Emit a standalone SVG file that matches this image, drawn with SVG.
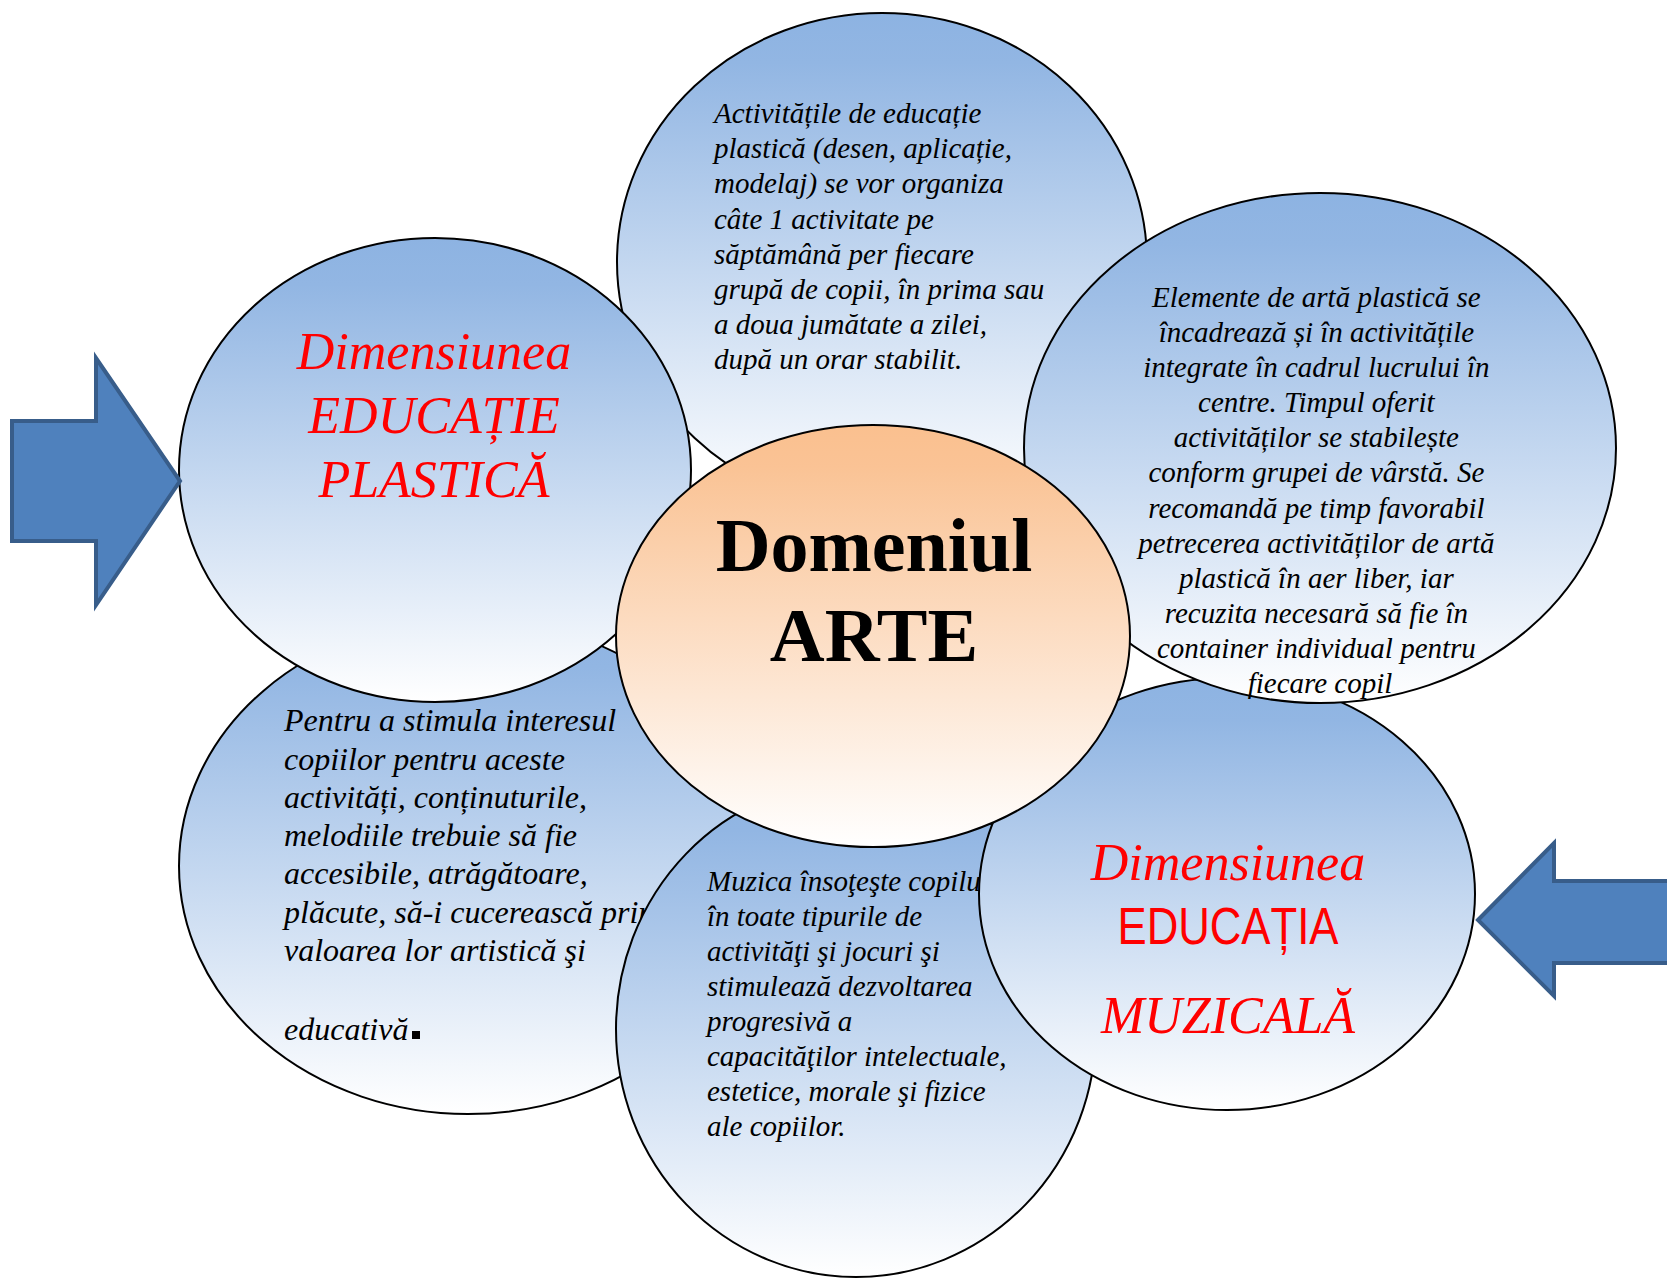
<svg xmlns="http://www.w3.org/2000/svg" width="1667" height="1278" viewBox="0 0 1667 1278">
<defs>
<linearGradient id="gBlue" x1="0" y1="0" x2="0" y2="1">
<stop offset="0" stop-color="#8DB3E2"/>
<stop offset="0.1" stop-color="#92B6E3"/>
<stop offset="1" stop-color="#FFFFFF"/>
</linearGradient>
<linearGradient id="gOrange" x1="0" y1="0" x2="0" y2="1">
<stop offset="0" stop-color="#FAC08F"/>
<stop offset="0.1" stop-color="#FAC395"/>
<stop offset="1" stop-color="#FFFFFF"/>
</linearGradient>
</defs>
<style>
.bub{fill:url(#gBlue);stroke:#000;stroke-width:2}
.ctr{fill:url(#gOrange);stroke:#000;stroke-width:2}
.body{font-family:"Liberation Serif","Times New Roman",serif;font-style:italic;font-size:29px;fill:#000}
.body32{font-family:"Liberation Serif","Times New Roman",serif;font-style:italic;font-size:32px;fill:#000}
.title{font-family:"Liberation Serif","Times New Roman",serif;font-style:italic;font-size:52px;fill:#FF0000;text-anchor:middle}
.sans{font-family:"Liberation Sans",Arial,sans-serif;font-size:52px;fill:#FF0000;text-anchor:middle}
.big{font-family:"Liberation Serif","Times New Roman",serif;font-weight:bold;font-size:76px;fill:#000;text-anchor:middle}
.arrow{fill:#4F81BD;stroke:#385D8A;stroke-width:4;stroke-linejoin:miter}
</style>
<rect width="1667" height="1278" fill="#FFFFFF"/>

<g id="node-top">
<ellipse class="bub" cx="882" cy="262" rx="265" ry="249"/>
<text class="body" x="714">
<tspan x="714" y="123">Activitățile de educație</tspan>
<tspan x="714" y="158">plastică (desen, aplicație,</tspan>
<tspan x="714" y="193">modelaj) se vor organiza</tspan>
<tspan x="714" y="229">câte 1 activitate pe</tspan>
<tspan x="714" y="264">săptămână per fiecare</tspan>
<tspan x="714" y="299">grupă de copii, în prima sau</tspan>
<tspan x="714" y="334">a doua jumătate a zilei,</tspan>
<tspan x="714" y="369">după un orar stabilit.</tspan>
</text>
</g>

<g id="node-bottom-left">
<ellipse class="bub" cx="468" cy="866" rx="289" ry="248"/>
<text class="body32">
<tspan x="284" y="731">Pentru a stimula interesul</tspan>
<tspan x="284" y="770">copiilor pentru aceste</tspan>
<tspan x="284" y="808">activități, conținuturile,</tspan>
<tspan x="284" y="846">melodiile trebuie să fie</tspan>
<tspan x="284" y="884">accesibile, atrăgătoare,</tspan>
<tspan x="284" y="923">plăcute, să-i cucerească prin</tspan>
<tspan x="284" y="961">valoarea lor artistică şi</tspan>
<tspan x="284" y="1040">educativă</tspan>
</text>
<rect x="412" y="1031" width="8" height="8" fill="#000"/>
</g>

<g id="node-bottom">
<ellipse class="bub" cx="856" cy="1029" rx="240" ry="248"/>
<text class="body">
<tspan x="707" y="891">Muzica însoţeşte copilul</tspan>
<tspan x="707" y="926">în toate tipurile de</tspan>
<tspan x="707" y="961">activităţi şi jocuri şi</tspan>
<tspan x="707" y="996">stimulează dezvoltarea</tspan>
<tspan x="707" y="1031">progresivă a</tspan>
<tspan x="707" y="1066">capacităţilor intelectuale,</tspan>
<tspan x="707" y="1101">estetice, morale şi fizice</tspan>
<tspan x="707" y="1136">ale copiilor.</tspan>
</text>
</g>

<g id="node-bottom-right">
<ellipse class="bub" cx="1227" cy="894" rx="248" ry="216"/>
<text class="title" x="1228" y="880">Dimensiunea</text>
<text class="sans" x="1228" y="944" textLength="221" lengthAdjust="spacingAndGlyphs">EDUCAȚIA</text>
<text class="title" x="1228" y="1033">MUZICALĂ</text>
</g>

<g id="node-right">
<ellipse class="bub" cx="1320" cy="448" rx="296" ry="255"/>
<text class="body" text-anchor="middle">
<tspan x="1320" y="307">Elemente de artă plastică se</tspan>
<tspan x="1320" y="342">încadrează și în activitățile</tspan>
<tspan x="1320" y="377">integrate în cadrul lucrului în</tspan>
<tspan x="1320" y="412">centre. Timpul oferit</tspan>
<tspan x="1320" y="447">activităților se stabilește</tspan>
<tspan x="1320" y="482">conform grupei de vârstă. Se</tspan>
<tspan x="1320" y="518">recomandă pe timp favorabil</tspan>
<tspan x="1320" y="553">petrecerea activităților de artă</tspan>
<tspan x="1320" y="588">plastică în aer liber, iar</tspan>
<tspan x="1320" y="623">recuzita necesară să fie în</tspan>
<tspan x="1320" y="658">container individual pentru</tspan>
<tspan x="1320" y="693">fiecare copil</tspan>
</text>
</g>

<g id="node-left">
<ellipse class="bub" cx="435" cy="470" rx="256" ry="232"/>
<text class="title" x="434" y="369">Dimensiunea</text>
<text class="title" x="434" y="433">EDUCAȚIE</text>
<text class="title" x="434" y="497">PLASTICĂ</text>
</g>

<g id="node-center">
<ellipse class="ctr" cx="873" cy="636" rx="257" ry="211"/>
<text class="big" x="874" y="571">Domeniul</text>
<text class="big" x="874" y="661">ARTE</text>
</g>

<g id="connectors">
<polygon id="arrow-left" class="arrow" points="12,421 96,421 96,358 180,481 96,605 96,541 12,541"/>
<polygon id="arrow-right" class="arrow" points="1478,920 1554,843 1554,881 1680,881 1680,963 1554,963 1554,996"/>
</g>
</svg>
